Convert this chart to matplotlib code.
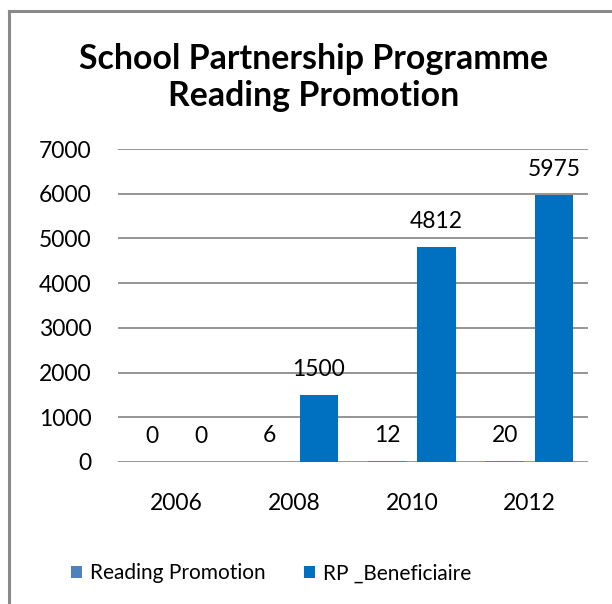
import numpy as np
import matplotlib
matplotlib.use("Agg")
import matplotlib.pyplot as plt
from matplotlib.lines import Line2D

plt.rcParams['font.family'] = ['Lato', 'DejaVu Sans']

years = ["2006", "2008", "2010", "2012"]
reading_promotion = [0, 6, 12, 20]
rp_beneficiaire = [0, 1500, 4812, 5975]

fig = plt.figure(figsize=[6.12, 6.04], dpi=100)
ax = fig.add_axes([0.1928, 0.2351, 0.768, 0.5182])

x = np.arange(len(years))
w = 0.33
b1 = ax.bar(x - 0.21, reading_promotion, w, color="#4F81BD", label="Reading Promotion")
b2 = ax.bar(x + 0.21, rp_beneficiaire, w, color="#0070C0", label="RP _Beneficiaire")
ax.bar_label(b1, padding=11, fontsize=16.5)
ax.bar_label(b2, padding=11, fontsize=16.5)

ax.set_xlim(-0.5, 3.5)
ax.set_ylim(0, 7000)
ax.set_yticks(range(0, 7001, 1000))
ax.set_xticks(x)
ax.set_xticklabels(years)
ax.tick_params(axis="both", length=0, labelsize=16.5)
ax.tick_params(axis="x", pad=22)
ax.tick_params(axis="y", pad=19)
ax.yaxis.grid(True, color="#8c8c8c", linewidth=1.3)
ax.set_axisbelow(True)
for s in ax.spines.values():
    s.set_visible(False)

fig.text(0.512, 0.8717, "School Partnership Programme\nReading Promotion",
         ha="center", va="center", fontsize=24.4, fontweight="bold", linespacing=1.2)

ax.legend(loc="center", bbox_to_anchor=(0.443, 0.051), bbox_transform=fig.transFigure,
          ncol=2, frameon=False, fontsize=15, handlelength=0.55, handleheight=0.55,
          handletextpad=0.4, columnspacing=1.8)

# outer chart border (left and top only visible)
fig.add_artist(Line2D([0.0147, 0.0147], [0.0, 0.9818], color="#8a8a8a", linewidth=2.2,
                      transform=fig.transFigure))
fig.add_artist(Line2D([0.0147, 1.0], [0.9818, 0.9818], color="#8a8a8a", linewidth=2.2,
                      transform=fig.transFigure))

plt.savefig("out.png", dpi=100)
